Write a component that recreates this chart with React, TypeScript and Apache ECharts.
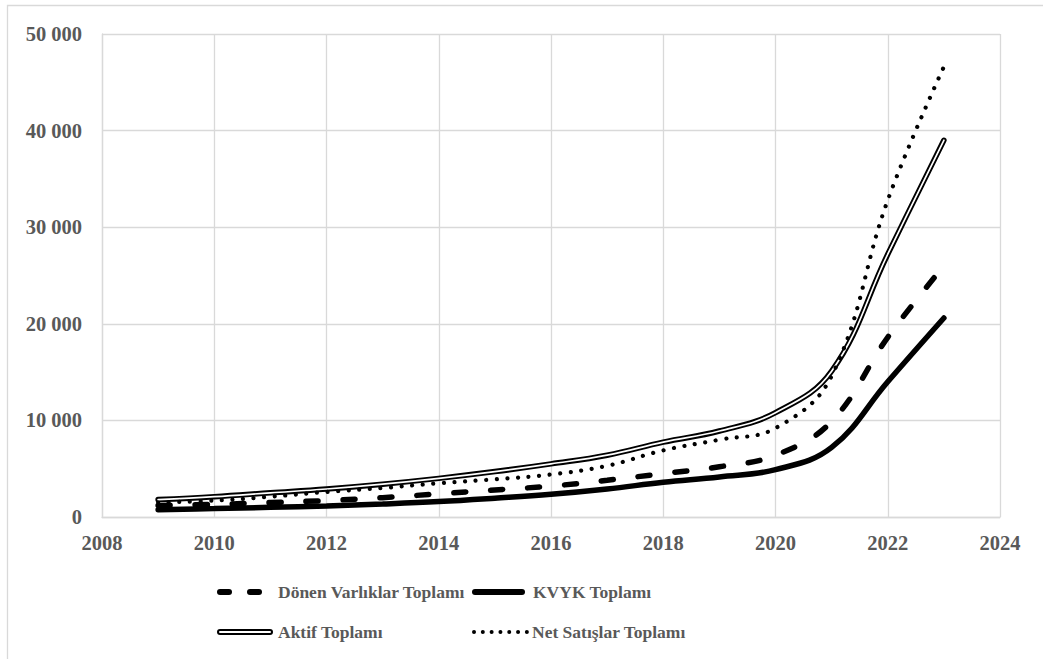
import React, { useEffect, useRef } from "react";
import * as echarts from "echarts";

// Yıllar ve seriler (milyon TL)
const years = [2009, 2010, 2011, 2012, 2013, 2014, 2015, 2016, 2017, 2018, 2019, 2020, 2021, 2022, 2023];
const donenVarliklar = [1200, 1300, 1500, 1700, 2000, 2400, 2800, 3200, 3800, 4500, 5200, 6400, 9900, 18600, 26000];
const kvykToplami = [750, 870, 1000, 1150, 1350, 1600, 1950, 2350, 2900, 3600, 4150, 4900, 7200, 14000, 20600];
const aktifToplami = [1800, 2100, 2500, 2900, 3400, 4000, 4700, 5500, 6400, 7750, 8900, 10800, 15100, 27200, 39000];
const netSatislar = [1500, 1700, 2100, 2600, 3000, 3500, 3900, 4400, 5300, 6900, 8000, 9200, 14600, 32800, 46600];

const seriesNames = ["Dönen Varlıklar Toplamı", "KVYK Toplamı", "Aktif Toplamı", "Net Satışlar Toplamı"];

const FONT = "Liberation Serif";
const TEXT = "#595959";
const GRID = "#d9d9d9";

const pairs = (vals: number[]) => years.map((y, i) => [y, vals[i]]);

export default function App() {
  const ref = useRef<HTMLDivElement>(null);

  useEffect(() => {
    if (!ref.current) return;
    const chart = echarts.init(ref.current, null, { renderer: "svg" });

    const row1 = 592;
    const row2 = 632;
    // Legend captions are drawn as title blocks so that they keep the serif face
    const legendText = (text: string, x: number, y: number) => ({
      text,
      left: x,
      top: y - 11,
      padding: 0,
      textStyle: {
        fontFamily: FONT,
        fontWeight: "bold",
        fontSize: 17.5,
        lineHeight: 22,
        color: TEXT,
      },
    });

    chart.setOption({
      animation: false,
      backgroundColor: "#ffffff",
      title: [
        legendText(seriesNames[0], 278, row1),
        legendText(seriesNames[1], 533, row1),
        legendText(seriesNames[2], 278, row2),
        legendText(seriesNames[3], 532, row2),
      ],
      grid: { left: 102, top: 34, right: 43, bottom: 142 },
      xAxis: {
        type: "value",
        min: 2008,
        max: 2024,
        interval: 2,
        axisLine: { show: true, lineStyle: { color: GRID, width: 1.3 } },
        axisTick: { show: false },
        splitLine: { show: true, lineStyle: { color: GRID, width: 1.3 } },
        axisLabel: {
          color: TEXT,
          fontFamily: FONT,
          fontWeight: "bold",
          fontSize: 20.5,
          margin: 15,
          formatter: (v: number) => String(v),
        },
      },
      yAxis: {
        type: "value",
        min: 0,
        max: 50000,
        interval: 10000,
        axisLine: { show: true, lineStyle: { color: GRID, width: 1.3 } },
        axisTick: { show: false },
        splitLine: { show: true, lineStyle: { color: GRID, width: 1.3 } },
        axisLabel: {
          color: TEXT,
          fontFamily: FONT,
          fontWeight: "bold",
          fontSize: 20.5,
          margin: 20,
          formatter: (v: number) => String(v).replace(/\B(?=(\d{3})+(?!\d))/g, " "),
        },
      },
      series: [
        {
          name: seriesNames[2],
          type: "line",
          data: pairs(aktifToplami),
          smooth: 0.4,
          symbol: "none",
          lineStyle: { color: "#000", width: 5.5, cap: "round" },
          z: 2,
        },
        {
          name: seriesNames[2] + " ",
          type: "line",
          data: pairs(aktifToplami),
          smooth: 0.4,
          symbol: "none",
          lineStyle: { color: "#fff", width: 1.7, cap: "round" },
          z: 3,
        },
        {
          name: seriesNames[3],
          type: "line",
          data: pairs(netSatislar),
          smooth: 0.4,
          symbol: "none",
          lineStyle: { color: "#000", width: 4.2, type: [0.01, 10.6], cap: "round" },
          z: 4,
        },
        {
          name: seriesNames[0],
          type: "line",
          data: pairs(donenVarliklar),
          smooth: 0.4,
          symbol: "none",
          lineStyle: { color: "#000", width: 5.5, type: [12, 25], cap: "round" },
          z: 5,
        },
        {
          name: seriesNames[1],
          type: "line",
          data: pairs(kvykToplami),
          smooth: 0.4,
          symbol: "none",
          lineStyle: { color: "#000", width: 5.5, cap: "round" },
          z: 6,
        },
      ],
      graphic: [
        {
          type: "rect",
          silent: true,
          shape: { x: 7.5, y: 5.5, width: 1100, height: 700 },
          style: { fill: "none", stroke: GRID, lineWidth: 1.3 },
          z: -1,
        },
        // Legend keys, row 1: dashed and solid
        {
          type: "line",
          shape: { x1: 220, y1: row1, x2: 229, y2: row1 },
          style: { stroke: "#000", lineWidth: 6, lineCap: "round" },
        },
        {
          type: "line",
          shape: { x1: 250, y1: row1, x2: 259, y2: row1 },
          style: { stroke: "#000", lineWidth: 6, lineCap: "round" },
        },
        {
          type: "line",
          shape: { x1: 475, y1: row1, x2: 522, y2: row1 },
          style: { stroke: "#000", lineWidth: 6, lineCap: "round" },
        },
        // Legend keys, row 2: double line and dotted
        {
          type: "line",
          shape: { x1: 220, y1: row2, x2: 270, y2: row2 },
          style: { stroke: "#000", lineWidth: 6, lineCap: "round" },
        },
        {
          type: "line",
          shape: { x1: 220, y1: row2, x2: 270, y2: row2 },
          style: { stroke: "#fff", lineWidth: 2, lineCap: "round" },
        },
        {
          type: "line",
          shape: { x1: 474, y1: row2, x2: 527, y2: row2 },
          style: { stroke: "#000", lineWidth: 4, lineCap: "round", lineDash: [0.01, 8.8] },
        },
      ],
    });

    return () => chart.dispose();
  }, []);

  return (
    <div
      ref={ref}
      style={{ position: "fixed", left: 0, top: 0, width: 1043, height: 659, background: "#fff" }}
    />
  );
}
